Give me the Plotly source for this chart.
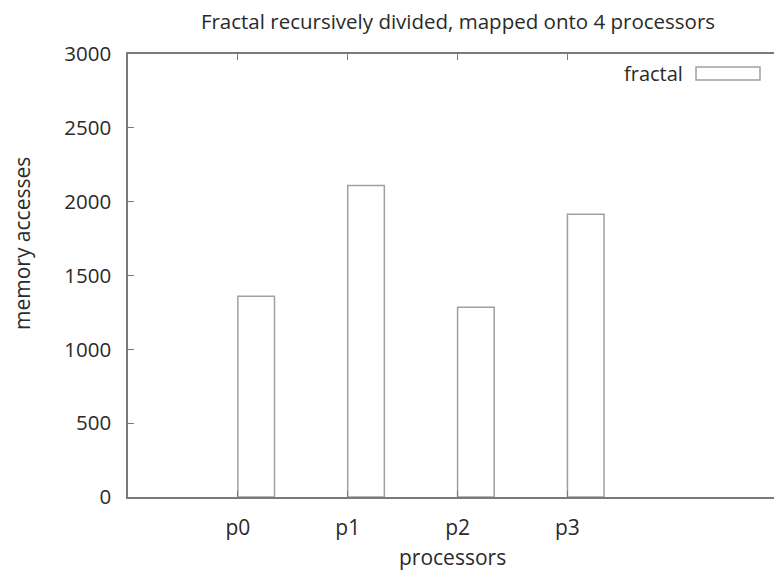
import plotly.graph_objects as go

categories = ["p0", "p1", "p2", "p3"]
positions = [0, 1, 2, 3]
accesses = [1360, 2110, 1285, 1915]
y_ticks = [0, 500, 1000, 1500, 2000, 2500, 3000]

FONT = "Open Sans"
AX = "#7a7a7a"
TXT = "#2a2a2a"

# page body adds an 8px offset; compensate so the plot box lands where the reference has it
W, H = 774, 562
L, T, B = 120, 46, 73
PW, PH = W - L, H - T - B


def px(fx):
    return (fx - L) / PW


def py(fy):
    return 1 - (fy - T) / PH


fig = go.Figure()
fig.add_trace(go.Bar(
    x=positions, y=accesses, offset=0, width=1/3,
    marker=dict(color="white", line=dict(color="#a0a0a0", width=1.5)),
    name="fractal", showlegend=False,
))

fig.update_layout(
    width=W, height=H,
    margin=dict(l=L, r=0, t=T, b=B, autoexpand=False),
    paper_bgcolor="white", plot_bgcolor="white",
    font=dict(family=FONT, size=20, color=TXT),
    title=dict(text="Fractal recursively divided, mapped onto 4 processors",
               x=0.5814, xanchor="center", y=0.975, yanchor="middle",
               font=dict(size=20.5, color=TXT)),
    xaxis=dict(range=[-1, 4.953], tickvals=positions, ticktext=categories,
               automargin=False,
               showgrid=False, zeroline=False, showline=True, linecolor=AX, linewidth=1.5,
               mirror="allticks", ticks="inside", ticklen=6, tickcolor=AX, tickwidth=1,
               ticklabelstandoff=11, tickfont=dict(size=21)),
    yaxis=dict(range=[0, 3000], tickvals=y_ticks,
               automargin=False,
               showgrid=False, zeroline=False, showline=True, linecolor=AX, linewidth=1.5,
               mirror="allticks", ticks="inside", ticklen=6, tickcolor=AX, tickwidth=1,
               ticklabelstandoff=11, tickfont=dict(size=20.5)),
)

# axis titles placed where the reference has them
fig.add_annotation(xref="paper", yref="paper", text="processors",
                   x=px(444), y=py(549), showarrow=False,
                   xanchor="center", yanchor="middle", font=dict(size=21))
fig.add_annotation(xref="paper", yref="paper", text="memory accesses",
                   x=px(14), y=py(236), showarrow=False, textangle=-90,
                   xanchor="center", yanchor="middle", font=dict(size=21))

# gnuplot-style key: label then sample box
fig.add_annotation(xref="paper", yref="paper", text="fractal",
                   x=px(677), y=py(65),
                   showarrow=False, xanchor="right", yanchor="middle",
                   font=dict(size=20))
fig.add_shape(type="rect", xref="paper", yref="paper",
              x0=px(688), x1=px(752), y0=py(72), y1=py(59),
              line=dict(color="#a0a0a0", width=1.5), fillcolor="white")

fig.write_html("out.html")
